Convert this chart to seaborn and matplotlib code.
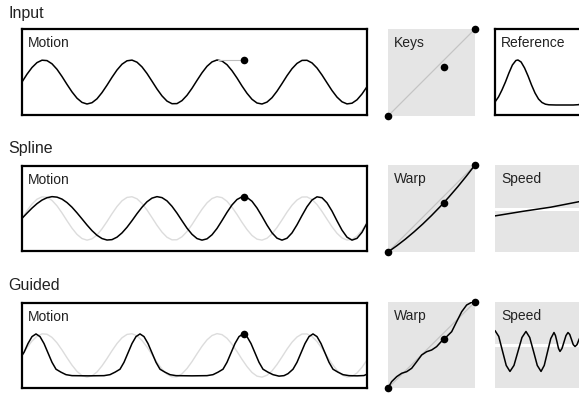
import seaborn as sns
import matplotlib.pyplot as plt

# === data ===
# motion boxes: time in px across the 345 px box, height in px above the box bottom
motion_t = list(range(0, 350, 5))
input_motion = [33.0, 40.8, 47.5, 52.4, 54.8, 54.4, 51.2, 45.7, 38.5, 30.6,
                23.1, 16.8, 12.6, 11.0, 12.3, 16.2, 22.4, 29.8, 37.7, 45.0,
                50.8, 54.2, 54.9, 52.8, 48.1, 41.5, 33.8, 26.0, 19.1, 13.9,
                11.3, 11.4, 14.4, 19.7, 26.7, 34.6, 42.2, 48.7, 53.1, 55.0,
                54.0, 50.3, 44.3, 37.0, 29.0, 21.7, 15.7, 12.0, 11.0, 12.9,
                17.3, 23.8, 31.4, 39.3, 46.3, 51.6, 54.6, 54.7, 52.1, 47.0,
                40.0, 32.2, 24.5, 17.9, 13.2, 11.1, 11.8, 15.2, 21.0, 28.3]
spline_motion = [33.0, 38.3, 43.4, 47.9, 51.5, 53.9, 55.0, 54.5, 52.5, 49.0,
                 44.3, 38.6, 32.5, 26.3, 20.6, 15.9, 12.6, 11.1, 11.5, 14.0,
                 18.3, 24.0, 30.7, 37.8, 44.3, 49.8, 53.5, 55.0, 54.0, 50.7,
                 45.2, 38.3, 30.6, 23.1, 16.9, 12.6, 11.0, 12.3, 16.4, 22.8,
                 30.8, 39.1, 46.6, 52.1, 54.8, 54.2, 50.3, 43.5, 35.1, 26.2,
                 18.4, 13.0, 11.0, 12.9, 18.3, 26.5, 35.9, 44.8, 51.6, 54.8,
                 53.9, 48.7, 40.4, 30.5, 21.1, 14.0, 11.0, 12.8, 18.9, 28.3]

guided_t = [0, 2, 6, 10, 14, 18, 22, 26, 30, 34, 39, 44, 50, 66, 82, 88, 93, 98,
            102, 106, 110, 114, 118, 122, 126, 130, 134, 138, 143, 148, 154, 170,
            185, 191, 196, 201, 205, 209, 213, 217, 221, 225, 229, 233, 237, 241,
            246, 251, 257, 262, 266, 271, 275, 279, 283, 287, 291, 295, 299, 303,
            307, 311, 316, 321, 327, 335, 342, 345]
guided_motion = [33.0, 36.0, 45.0, 52.0, 54.7, 52.0, 45.0, 35.5, 26.0, 19.0, 16.0,
                 13.5, 12.5, 12.3, 12.5, 13.5, 16.0, 19.0, 26.0, 35.5, 45.0, 52.0,
                 54.7, 52.0, 45.0, 35.5, 26.0, 19.0, 16.0, 13.5, 12.5, 12.3, 12.5,
                 13.5, 16.0, 19.0, 26.0, 35.5, 45.0, 52.0, 54.7, 52.0, 45.0, 35.5,
                 26.0, 19.0, 16.0, 13.5, 12.0, 12.5, 14.5, 19.0, 26.0, 35.5, 45.0,
                 52.0, 54.7, 52.0, 45.0, 35.5, 26.0, 19.0, 16.0, 13.5, 12.5, 12.3,
                 12.6, 14.0]

peak_t = 196        # input peak that the middle key moves
key_t = 222         # where it is moved to
key_h = 54.7

# keys / warp panels (unit square)
keys_u = [0.0, 0.643, 1.0]
keys_v = [0.0, 0.567, 1.0]

spline_warp_u = [0.0, 0.1, 0.2, 0.3, 0.4, 0.5, 0.6, 0.7, 0.8, 0.9, 1.0]
spline_warp_v = [0.0, 0.071, 0.148, 0.232, 0.322, 0.419, 0.522, 0.632, 0.748, 0.871, 1.0]

guided_warp_u = [0.0, 0.042, 0.100, 0.157, 0.215, 0.272, 0.330, 0.387, 0.444, 0.502,
                 0.559, 0.628, 0.674, 0.732, 0.789, 0.847, 0.904, 0.962, 1.0]
guided_warp_v = [0.0, 0.074, 0.132, 0.171, 0.190, 0.229, 0.306, 0.384, 0.422, 0.442,
                 0.481, 0.558, 0.597, 0.655, 0.771, 0.887, 0.965, 0.997, 1.0]

# reference panel: u across box, height in px above box bottom
ref_u = [0.0, 0.04, 0.08, 0.12, 0.16, 0.20, 0.24, 0.264, 0.30, 0.34, 0.38, 0.42,
         0.46, 0.50, 0.54, 0.58, 0.62, 0.7, 0.8, 0.9, 0.96, 1.0]
ref_v = [13, 18, 25, 33, 42, 50, 54.5, 55, 53, 47, 39, 30, 22, 16, 12.5, 10.8,
         10.2, 10, 10, 10, 10.3, 12]

# speed panels (1 = normal speed, white line)
spline_speed_u = [0.0, 0.32, 0.64, 1.0]
spline_speed = [0.66, 0.87, 1.06, 1.34]

guided_speed_u = [0.0, 0.043, 0.086, 0.129, 0.172, 0.218, 0.264, 0.310, 0.356, 0.399,
                  0.443, 0.486, 0.529, 0.566, 0.603, 0.641, 0.678, 0.695, 0.713, 0.730,
                  0.747, 0.770, 0.793, 0.816, 0.839, 0.859, 0.879, 0.899, 0.920, 0.943,
                  0.966, 1.0]
guided_speed = [1.67, 1.40, 0.72, 0.05, -0.23, 0.05, 0.70, 1.35, 1.63, 1.35,
                0.70, 0.05, -0.23, 0.05, 0.67, 1.30, 1.58, 1.44, 1.14, 0.84,
                0.70, 0.84, 1.14, 1.44, 1.58, 1.49, 1.26, 1.02, 0.93, 1.02,
                1.26, 1.54]

row_titles = ["Input", "Spline", "Guided"]

# === style ===
sns.set_theme(style="white")
plt.rcParams["font.family"] = ["Liberation Sans", "DejaVu Sans"]

W, H = 579, 394
PANEL_GRAY = "#e5e5e5"
LIGHT = "#dcdcdc"
TXT = "#222222"

fig = plt.figure(figsize=(W / 100, H / 100), dpi=100)


def px_axes(x0, y0, x1, y1):
    ax = fig.add_axes([x0 / W, 1 - y1 / H, (x1 - x0) / W, (y1 - y0) / H])
    ax.set_xticks([])
    ax.set_yticks([])
    ax.set_xlabel("")
    ax.set_ylabel("")
    ax._px = (x1 - x0, y1 - y0)
    return ax


def boxed(ax):
    for s in ax.spines.values():
        s.set_visible(True)
        s.set_color("black")
        s.set_linewidth(1.6)
    ax.set_facecolor("white")


def shaded(ax):
    for s in ax.spines.values():
        s.set_visible(False)
    ax.set_facecolor(PANEL_GRAY)


def label(ax, text):
    w, h = ax._px
    ax.text(6 / w, 1 - 18 / h, text, transform=ax.transAxes, fontsize=10,
            color=TXT, va="baseline", ha="left")


def dots(ax, x, y):
    sns.scatterplot(x=x, y=y, ax=ax, color="black", s=30, linewidth=0,
                    clip_on=False, zorder=6, legend=False)


def line(ax, x, y, color="black", lw=1.1, z=3):
    sns.lineplot(x=x, y=y, ax=ax, color=color, linewidth=lw, zorder=z,
                 estimator=None, sort=False, legend=False)


rows = [(29, 115), (166, 251), (303, 388)]
title_base = [18, 153, 290]

for title, yb in zip(row_titles, title_base):
    fig.text(8 / W, 1 - yb / H, title, fontsize=11.5, color=TXT,
             va="baseline", ha="left")

# --- motion boxes ---
motion_axes = []
for (top, bot) in rows:
    ax = px_axes(22, top, 367, bot)
    boxed(ax)
    ax.set_xlim(0, 345)
    ax.set_ylim(0, 86)
    label(ax, "Motion")
    motion_axes.append(ax)

ax = motion_axes[0]
line(ax, motion_t, input_motion)
line(ax, [peak_t, key_t], [key_h, key_h], color="#bdbdbd", lw=0.8)
dots(ax, [key_t], [key_h])

ax = motion_axes[1]
line(ax, motion_t, input_motion, color=LIGHT, lw=1.0, z=2)
line(ax, motion_t, spline_motion)
dots(ax, [key_t], [key_h])

ax = motion_axes[2]
line(ax, motion_t, input_motion, color=LIGHT, lw=1.0, z=2)
line(ax, guided_t, guided_motion)
dots(ax, [key_t], [key_h])

# --- keys / warp panels ---
sq_rows = [(29, 116), (165, 252), (302, 388)]
warp_names = ["Keys", "Warp", "Warp"]
warp_curves = [None, (spline_warp_u, spline_warp_v), (guided_warp_u, guided_warp_v)]
for (top, bot), name, curve in zip(sq_rows, warp_names, warp_curves):
    ax = px_axes(388, top, 475, bot)
    shaded(ax)
    ax.set_xlim(0, 1)
    ax.set_ylim(0, 1)
    line(ax, [0, 1], [0, 1], color="#c4c4c4", lw=0.9, z=2)
    if curve is not None:
        line(ax, curve[0], curve[1])
    dots(ax, keys_u, keys_v)
    label(ax, name)

# --- reference panel ---
ax = px_axes(495, 29, 582, 115)
boxed(ax)
ax.set_xlim(0, 1)
ax.set_ylim(0, 86)
line(ax, ref_u, ref_v)
label(ax, "Reference")

# --- speed panels ---
for (top, bot), (u, s) in zip(sq_rows[1:], [(spline_speed_u, spline_speed),
                                           (guided_speed_u, guided_speed)]):
    ax = px_axes(495, top, 582, bot)
    shaded(ax)
    ax.set_xlim(0, 1)
    ax.set_ylim(-1, 3)
    ax.axhline(1, color="white", lw=2.2, zorder=2)
    line(ax, u, s)
    label(ax, "Speed")

fig.savefig("out.png", dpi=100)
